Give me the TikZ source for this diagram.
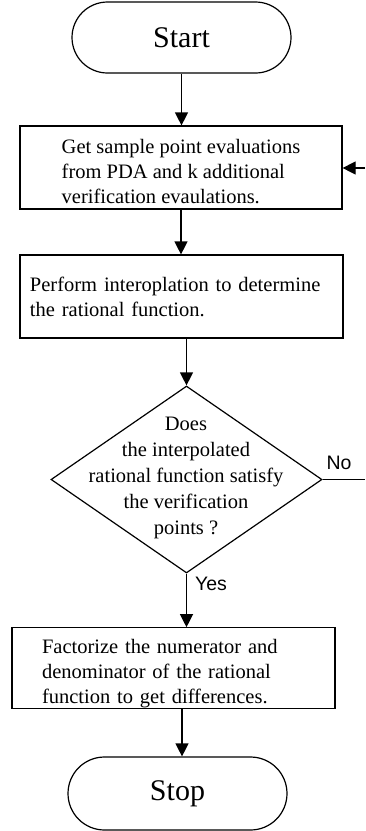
\documentclass[tikz,border=0pt]{standalone}
\usepackage{fontspec}
\setmainfont{Liberation Serif}
\newfontfamily\labfont{Liberation Sans}
\usetikzlibrary{shapes.geometric,shapes.misc,arrows.meta}
\begin{document}
\begin{tikzpicture}[x=1pt,y=-1pt,
  every path/.style={line width=1.2pt},
  term/.style={draw,rounded rectangle,minimum width=219pt,inner sep=0pt,font=\fontsize{30}{34}\selectfont},
  procbox/.style={draw,rectangle,align=left,inner ysep=0pt,font=\fontsize{20.5}{25}\selectfont},
  decbox/.style={draw,diamond,inner sep=0pt,minimum width=271pt,minimum height=187pt},
  dectext/.style={align=center,font=\fontsize{20.5}{26}\selectfont},
  lab/.style={font=\labfont\fontsize{19.5}{22}\selectfont,inner sep=0pt},
  arr/.style={-{Triangle[length=13pt,width=13pt]}}]
\useasboundingbox (0,0) rectangle (365,831);
\node[term,minimum height=71pt] (start) at (181.5,37.5) {Start};
\node[procbox,inner xsep=0pt,minimum width=322pt,minimum height=83pt] (b1) at (181,167.5)
  {\rule{0pt}{22pt}Get sample point evaluations\\from PDA and k additional\\verification evaulations.};
\node[procbox,inner xsep=10pt,text width=303pt,minimum height=83pt] (b2) at (181.5,296.5)
  {Perform interoplation to determine\\the rational function.};
\node[decbox] (dec) at (186.5,479.5) {};
\node[dectext] (dect) at (186,478) {Does\\the interpolated\\rational function satisfy\\the verification\\points ?};
\node[procbox,inner xsep=30pt,text width=263pt,minimum height=80pt] (b3) at (173.5,668)
  {\rule{0pt}{26pt}Factorize the numerator and\\denominator of the rational\\function to get differences.};
\node[term,minimum height=73pt] (stop) at (177.5,793.5) {Stop};
\coordinate (noend) at (365,479.5);
\coordinate (fbstart) at (365,168);
\coordinate (s5) at (182,708);
\draw[arr] (start.south) -- (start.south |- b1.north);
\draw[arr] (b1.south) -- (b1.south |- b2.north);
\draw[arr] (b2.south -| dec.north) -- (dec.north);
\draw[arr] (dec.south) -- (dec.south |- b3.north);
\draw[arr] (s5) -- (s5 |- stop.north);
\draw (dec.east) -- (noend);
\draw[arr] (fbstart) -- (fbstart -| b1.east);
\node[lab] (no) at (339,463) {No};
\node[lab] (yes) at (211,584) {Yes};
\end{tikzpicture}
\end{document}
